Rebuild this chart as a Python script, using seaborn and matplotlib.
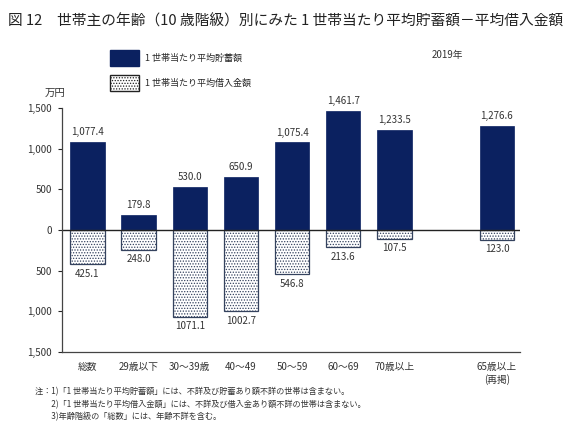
import matplotlib
matplotlib.use("Agg")
import matplotlib.pyplot as plt
import seaborn as sns
import pandas as pd
from matplotlib.patches import Patch

# -------------------------------
# Data (万円, 2019年)
# -------------------------------
age_groups = ["総数", "29歳以下", "30～39歳", "40～49", "50～59", "60～69", "70歳以上", "65歳以上\n(再掲)"]
savings = [1077.4, 179.8, 530.0, 650.9, 1075.4, 1461.7, 1233.5, 1276.6]
borrowings = [425.1, 248.0, 1071.1, 1002.7, 546.8, 213.6, 107.5, 123.0]
savings_labels = ["1,077.4", "179.8", "530.0", "650.9", "1,075.4", "1,461.7", "1,233.5", "1,276.6"]
borrow_labels = ["425.1", "248.0", "1071.1", "1002.7", "546.8", "213.6", "107.5", "123.0"]
order = age_groups[:7] + [" "] + age_groups[7:]
yticks = [1500, 1000, 500, 0, -500, -1000, -1500]

df = pd.DataFrame({"group": age_groups, "savings": savings,
                   "borrow": [-b for b in borrowings]})

# -------------------------------
# Style
# -------------------------------
sns.set_style("white")
plt.rcParams['font.family'] = ['Noto Sans CJK JP', 'DejaVu Sans']
plt.rcParams['hatch.linewidth'] = 0.6

navy = "#0b2160"
edge = "#34425e"

fig = plt.figure(figsize=(5.72, 4.42), dpi=100)
ax = fig.add_axes([0.108, 0.204, 0.801, 0.552])

sns.barplot(data=df, x="group", y="savings", order=order, color=navy,
            width=0.67, saturation=1, ax=ax, edgecolor=navy, linewidth=0.5)
sns.barplot(data=df, x="group", y="borrow", order=order, color="white",
            width=0.67, saturation=1, ax=ax, edgecolor=edge, linewidth=0.9,
            hatch="......")

# value labels
for i, g in enumerate(age_groups):
    xpos = order.index(g)
    ax.text(xpos, savings[i] + 60, savings_labels[i], ha="center", va="bottom",
            fontsize=7, color="#333333")
    ax.text(xpos, -borrowings[i] - 55, borrow_labels[i], ha="center", va="top",
            fontsize=7, color="#333333")

ax.axhline(0, color="#222222", linewidth=1.0)
ax.set_xlim(-0.5, 8.45)
ax.set_ylim(-1500, 1500)
ax.set_yticks(yticks)
ax.set_yticklabels([f"{abs(v):,}" for v in yticks], fontsize=7, color="#333333")
ax.set_xticks(range(len(order)))
ax.set_xticklabels(order, fontsize=7, color="#333333", linespacing=1.3)
ax.tick_params(axis="y", direction="out", length=3, width=0.8, left=True, pad=4)
ax.tick_params(axis="x", length=0, pad=7)
ax.set_xlabel("")
ax.set_ylabel("")
for s in ["top", "right"]:
    ax.spines[s].set_visible(False)
ax.spines["left"].set_color("#444444")
ax.spines["bottom"].set_color("#444444")
ax.spines["left"].set_linewidth(0.9)
ax.spines["bottom"].set_linewidth(0.9)

# legend
handles = [Patch(facecolor=navy, edgecolor=navy, label="1 世帯当たり平均貯蓄額"),
           Patch(facecolor="white", edgecolor="#222222", hatch="......",
                 label="1 世帯当たり平均借入金額")]
fig.legend(handles=handles, loc="upper left", bbox_to_anchor=(0.178, 0.905),
           frameon=False, fontsize=6.5, handlelength=3.2, handleheight=2.3,
           labelspacing=1.05, handletextpad=0.7)

# texts
fig.text(0.014, 0.952, "図 12　世帯主の年齢（10 歳階級）別にみた 1 世帯当たり平均貯蓄額－平均借入金額",
         fontsize=10.6, ha="left", va="center", color="#222222")
fig.text(0.755, 0.875, "2019年", fontsize=7, ha="left", va="center", color="#333333")
fig.text(0.078, 0.79, "万円", fontsize=7.5, ha="left", va="center", color="#333333")
notes = ["注：1)「1 世帯当たり平均貯蓄額」には、不詳及び貯蓄あり額不詳の世帯は含まない。",
         "　　2)「1 世帯当たり平均借入金額」には、不詳及び借入金あり額不詳の世帯は含まない。",
         "　　3)年齢階級の「総数」には、年齢不詳を含む。"]
for k, n in enumerate(notes):
    fig.text(0.062, 0.113 - k * 0.028, n, fontsize=5.9, ha="left", va="center",
             color="#333333")

fig.savefig("out.png", dpi=100)
